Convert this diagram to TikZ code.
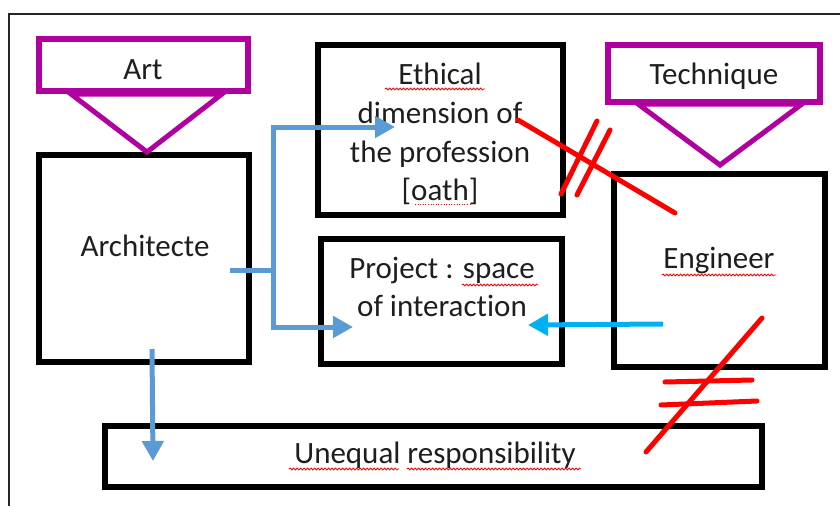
\documentclass[tikz,border=0pt]{standalone}
\usepackage{fontspec}
\setmainfont{Carlito}[Ligatures=NoCommon]
\usetikzlibrary{arrows.meta,decorations.pathmorphing}
\definecolor{artblue}{RGB}{91,155,213}
\definecolor{engblue}{RGB}{0,176,240}
\definecolor{mag}{RGB}{176,0,160}
\definecolor{txt}{RGB}{30,30,30}
\definecolor{wred}{RGB}{255,0,0}
\begin{document}
\begin{tikzpicture}[x=1pt,y=-1pt,
  box/.style={draw=black,line width=6pt,inner sep=0pt,outer sep=0pt},
  magbox/.style={draw=mag,line width=6pt,inner sep=0pt,outer sep=0pt},
  magtri/.style={draw=mag,line width=5pt,line join=miter},
  lbl/.style={anchor=base,inner sep=0pt,text=txt,font=\fontsize{31}{39}\selectfont},
  bluearrow/.style={draw=artblue,line width=5pt,-{Triangle[length=20pt,width=21pt]}},
  blueline/.style={draw=artblue,line width=5pt},
  cyanarrow/.style={draw=engblue,line width=5pt,-{Triangle[length=20pt,width=21pt]}},
  redbar/.style={draw=wred,line width=5pt,line cap=round},
  squig/.style={draw=wred,line width=0.8pt,decorate,decoration={snake,amplitude=1pt,segment length=3.5pt}},
  frame/.style={draw=black!85,line width=2pt}]
\useasboundingbox (0,0) rectangle (840,506);
% outer frame
\draw[frame] (9,506) -- (9,14) -- (840,14);
% boxes
\node[magbox,minimum width=209pt,minimum height=52pt] (art) at (143.5,65) {};
\node[magbox,minimum width=212pt,minimum height=57pt] (tech) at (714,73.5) {};
\node[box,minimum width=210pt,minimum height=207pt] (arch) at (144,258.5) {};
\node[box,minimum width=245pt,minimum height=170pt] (eth) at (440.5,130) {};
\node[box,minimum width=241pt,minimum height=125pt] (proj) at (441.5,301.5) {};
\node[box,minimum width=211pt,minimum height=193pt] (eng) at (719.5,270.5) {};
\node[box,minimum width=657pt,minimum height=61pt] (uneq) at (433.5,456.5) {};
% triangles
\coordinate (artL) at (71,94); \coordinate (artR) at (222,94); \coordinate (artA) at (147,152);
\draw[magtri] (artL) -- (artR) -- (artA) -- cycle;
\coordinate (techL) at (638,104); \coordinate (techR) at (802,104); \coordinate (techA) at (720,165);
\draw[magtri] (techL) -- (techR) -- (techA) -- cycle;
% texts
\node[lbl] (tArt) at (143,79) {Art};
\node[lbl] (tTech) at (714,84) {Technique};
\node[lbl] (tArch) at (145,256) {Architecte};
\node[lbl] (tEth1) at (440,84) {Ethical};
\node[lbl] (tEth2) at (440,123) {dimension of};
\node[lbl] (tEth3) at (440,162) {the profession};
\node[lbl] (tEth4) at (440,200) {[oath]};
\node[lbl] (tPro1) at (442,278) {Project : space};
\node[lbl] (tPro2) at (442,316) {of interaction};
\node[lbl] (tEng) at (719,268) {Engineer};
\node[lbl] (tUne) at (435,463) {Unequal responsibility};
% spelling marks
\draw[squig] (385,89) -- (485,89);
\draw[squig] (462,285) -- (538,285);
\draw[squig] (662,275) -- (776,275);
\draw[squig] (289,469) -- (399,469);
\draw[squig] (407,469) -- (581,469);
\draw[wred,line width=0.6pt,dotted] (415,204) -- (470,204);
% blue connectors from Architecte
\coordinate (j0) at (230,270);
\coordinate (j1) at (273,270);
\coordinate (tE) at (395,127);
\coordinate (tP) at (353,327);
\draw[blueline] (j0) -- (j1);
\draw[bluearrow] (j1) |- (tE);
\draw[bluearrow] (j1) |- (tP);
% Engineer -> Project
\coordinate (eS) at (663,324);
\coordinate (eT) at (528,325);
\draw[cyanarrow] (eS) -- (eT);
% Architecte -> Unequal
\coordinate (dS) at (152,349);
\coordinate (dT) at (153,461);
\draw[bluearrow] (dS) -- (dT);
% red "not equal" marks
\coordinate (r1a) at (518,120); \coordinate (r1b) at (675,213);
\draw[redbar] (r1a) -- (r1b);
\coordinate (r2a) at (597,121); \coordinate (r2b) at (561,194);
\draw[redbar] (r2a) -- (r2b);
\coordinate (r3a) at (610,130); \coordinate (r3b) at (577,195);
\draw[redbar] (r3a) -- (r3b);
\coordinate (r4a) at (762,318); \coordinate (r4b) at (646,452);
\draw[redbar] (r4a) -- (r4b);
\coordinate (r5a) at (665,382); \coordinate (r5b) at (752,380);
\draw[redbar] (r5a) -- (r5b);
\coordinate (r6a) at (661,405); \coordinate (r6b) at (757,401);
\draw[redbar] (r6a) -- (r6b);
\end{tikzpicture}
\end{document}
